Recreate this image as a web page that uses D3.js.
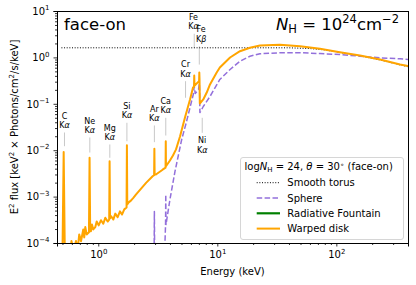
<!DOCTYPE html>
<html>
<head>
<meta charset="utf-8">
<script src="https://cdnjs.cloudflare.com/ajax/libs/d3/7.8.5/d3.min.js"></script>
<style>
  body { margin: 0; background: #fff; }
  svg { display: block; }
  text { font-family: "DejaVu Sans", sans-serif; fill: #000; }
</style>
</head>
<body>
<svg id="chart"></svg>
<script>
// axis ticks
const energyMajor = [1, 10, 100];
const fluxMajor = [1e-4, 1e-3, 1e-2, 1e-1, 1, 10];

// smooth torus (dotted)
const torusEnergy = [0.49, 40, 60, 80, 107, 158, 233, 343, 400];
const torusFlux   = [1.61, 1.61, 1.55, 1.45, 1.28, 1.08, 0.88, 0.69, 0.63];

// sphere (dashed)
const sphereEnergy = [2.94, 2.96, 2.98, 3.60, 3.675, 3.69, 3.705, 3.74, 4.00, 4.41, 5.02, 5.46, 5.90, 6.28, 6.40, 6.52,
  6.95, 7.06, 7.10, 7.14, 7.62, 8.68, 10.5, 12.8, 15.5, 18.8, 22.8, 33.6, 49.5, 72.9, 107, 158, 233, 343, 400];
const sphereFlux = [0.00003, 0.00048, 0.00003, 0.00005, 0.00025, 0.00111, 0.00025, 0.00029, 0.000867, 0.00348, 0.0170,
  0.0376, 0.0832, 0.159, 0.236, 0.167, 0.203, 0.274, 0.203, 0.0649, 0.0875, 0.1437, 0.334, 0.548, 0.828, 1.06, 1.20,
  1.26, 1.26, 1.21, 1.155, 1.06, 0.98, 0.93, 0.90];

// radiative fountain: below the plotted range, legend only
const fountainEnergy = [];
const fountainFlux = [];

// warped disk (solid orange)
const warpedEnergy = [0.500, 0.512, 0.524, 0.585, 0.595, 0.62, 0.65, 0.67, 0.692, 0.716, 0.748, 0.762, 0.778, 0.799,
  0.835, 0.845, 0.855, 0.868, 0.885, 0.908, 0.944, 0.970, 1.008, 1.054, 1.102, 1.145, 1.199, 1.235, 1.245, 1.255,
  1.279, 1.337, 1.390, 1.455, 1.521, 1.582, 1.653, 1.728, 1.740, 1.752, 1.80, 1.88, 1.97, 2.07, 2.52, 2.86, 2.945,
  2.96, 2.975, 3.05, 3.47, 3.675, 3.69, 3.705, 4.00, 4.24, 4.50, 4.86, 5.35, 5.90, 6.25, 6.37, 6.40, 6.43, 6.95,
  7.03, 7.06, 7.09, 7.13, 7.62, 8.15, 8.68, 9.88, 10.5, 12.8, 15.5, 18.8, 22.8, 33.6, 49.5, 72.9, 107, 158, 233, 343, 400];
const warpedFlux = [0.00005, 0.0091, 0.00005, 0.00006, 0.00011, 0.00007, 0.00011, 0.00007, 0.000153, 0.000109,
  0.000196, 0.000132, 0.00022, 0.000153, 0.00017, 0.0069, 0.00018, 0.00018, 0.00025, 0.000196, 0.00022, 0.00029,
  0.00024, 0.00031, 0.00026, 0.00035, 0.00029, 0.00032, 0.0058, 0.00034, 0.00038, 0.00032, 0.00043, 0.00036, 0.00048,
  0.00041, 0.00053, 0.00058, 0.0128, 0.00068, 0.00075, 0.00082, 0.00094, 0.0011, 0.00198, 0.00275, 0.0029, 0.0107,
  0.0030, 0.0030, 0.0038, 0.0042, 0.0156, 0.0045, 0.0060, 0.0077, 0.0104, 0.0197, 0.0507, 0.124, 0.225, 0.23, 0.407,
  0.245, 0.30, 0.305, 0.473, 0.335, 0.1015, 0.124, 0.175, 0.261, 0.473, 0.606, 0.995, 1.36, 1.61, 1.80, 1.87, 1.74,
  1.53, 1.29, 1.10, 0.90, 0.70, 0.65];

// fluorescence line annotations
const lineElements = ["C", "Ne", "Mg", "Si", "Ar", "Ca", "Cr", "Fe", "Fe", "Ni"];
const lineSeries   = ["α", "α", "α", "α", "α", "α", "α", "α", "β", "α"];
const lineEnergies = [0.52, 0.849, 1.25, 1.74, 2.96, 3.69, 5.41, 6.40, 7.06, 7.47];
const lineMarkHigh = [0.0241, 0.0188, 0.0133, 0.0390, 0.0341, 0.0499, 0.307, 3.23, 1.74, 0.0499];
const lineMarkLow  = [0.0122, 0.0089, 0.00686, 0.0156, 0.0149, 0.0207, 0.135, 1.61, 0.70, 0.0237];
const lineLabelBelow = [false, false, false, false, false, false, false, false, false, true];

const seriesNames = ["Smooth torus", "Sphere", "Radiative Fountain", "Warped disk"];

const W = 416, H = 285;
const plot = { left: 57, right: 408, top: 11, bottom: 243 };

const svg = d3.select("#chart").attr("width", W).attr("height", H).attr("viewBox", `0 0 ${W} ${H}`);

const x = d3.scaleLog().domain([0.45, 400]).range([plot.left, plot.right]);
const y = d3.scaleLog().domain([1e-4, 10]).range([plot.bottom, plot.top]);

const styles = [
  { color: "#000", width: 1, dash: "1,1.65" },
  { color: "#9370db", width: 1.5, dash: "5.5,2.4" },
  { color: "#008000", width: 2.2, dash: null },
  { color: "#ffa500", width: 2, dash: null }
];

// superscript helper for "10^n"
function pow10Label(sel, exp) {
  sel.text(null);
  sel.append("tspan").text("10");
  sel.append("tspan").attr("dy", -4.5).attr("font-size", 7).text(exp);
}
const expText = v => {
  const e = Math.round(Math.log10(v));
  return e < 0 ? "\u2212" + Math.abs(e) : String(e);
};

// clip
svg.append("defs").append("clipPath").attr("id", "clip")
  .append("rect").attr("x", plot.left).attr("y", plot.top)
  .attr("width", plot.right - plot.left).attr("height", plot.bottom - plot.top);

// annotations for fluorescence lines
const ann = svg.append("g").attr("class", "line-labels");
lineEnergies.forEach((e, i) => {
  const cx = x(e);
  ann.append("line")
    .attr("x1", cx).attr("x2", cx)
    .attr("y1", y(lineMarkHigh[i])).attr("y2", y(lineMarkLow[i]))
    .attr("stroke", "#c8c8c8").attr("stroke-width", 1);
  let b1, b2;
  if (lineLabelBelow[i]) {
    b1 = y(lineMarkLow[i]) + 9.7; b2 = b1 + 10;
  } else {
    b2 = y(lineMarkHigh[i]) - 4.5; b1 = b2 - 9.3;
  }
  // Fe Ka / Fe Kb labels sit almost on top of each other; spread them a touch
  let lx = cx;
  if (lineElements[i] === "Fe") lx += lineSeries[i] === "β" ? 1.8 : -0.8;
  ann.append("text").attr("x", lx).attr("y", b1).attr("text-anchor", "middle")
    .attr("font-size", 8).text(lineElements[i]);
  const t = ann.append("text").attr("x", lx).attr("y", b2).attr("text-anchor", "middle").attr("font-size", 8);
  t.append("tspan").text("K");
  t.append("tspan").attr("font-style", "italic").text(lineSeries[i]);
});

// curves
const lineGen = d3.line().x(d => x(d[0])).y(d => y(d[1]));
const curves = svg.append("g").attr("clip-path", "url(#clip)");
const seriesData = [
  d3.zip(torusEnergy, torusFlux),
  d3.zip(sphereEnergy, sphereFlux),
  d3.zip(fountainEnergy, fountainFlux),
  d3.zip(warpedEnergy, warpedFlux)
];
seriesData.forEach((data, i) => {
  if (!data.length) return;
  curves.append("path")
    .attr("d", lineGen(data))
    .attr("fill", "none")
    .attr("stroke", styles[i].color)
    .attr("stroke-width", styles[i].width)
    .attr("stroke-dasharray", styles[i].dash)
    .attr("stroke-linejoin", "round");
});

// axes
const minorX = x.ticks().filter(v => !energyMajor.includes(v));
const minorY = y.ticks().filter(v => !fluxMajor.some(m => Math.abs(m - v) / m < 1e-6));

svg.append("g").attr("transform", `translate(0,${plot.bottom})`)
  .call(d3.axisBottom(x).tickValues(minorX).tickSize(2).tickFormat(""))
  .call(g => g.select(".domain").remove());
svg.append("g").attr("transform", `translate(${plot.left},0)`)
  .call(d3.axisLeft(y).tickValues(minorY).tickSize(2).tickFormat(""))
  .call(g => g.select(".domain").remove());

const xAxis = svg.append("g").attr("transform", `translate(0,${plot.bottom})`)
  .call(d3.axisBottom(x).tickValues(energyMajor).tickSize(3.5).tickPadding(4.5).tickFormat(""));
xAxis.selectAll(".tick text").each(function(d) { pow10Label(d3.select(this), expText(d)); });
xAxis.selectAll("text").attr("font-size", 10).attr("font-family", "DejaVu Sans");

const yAxis = svg.append("g").attr("transform", `translate(${plot.left},0)`)
  .call(d3.axisLeft(y).tickValues(fluxMajor).tickSize(3.5).tickPadding(4).tickFormat(""));
yAxis.selectAll(".tick text").each(function(d) { pow10Label(d3.select(this), expText(d)); });
yAxis.selectAll("text").attr("font-size", 10).attr("font-family", "DejaVu Sans");

svg.selectAll(".tick line").attr("stroke", "#000").attr("stroke-width", 0.8);

// frame
svg.append("rect")
  .attr("x", plot.left + 0.5).attr("y", plot.top + 0.5)
  .attr("width", plot.right - plot.left).attr("height", plot.bottom - plot.top)
  .attr("fill", "none").attr("stroke", "#000").attr("stroke-width", 1);

// axis labels
svg.append("text").attr("x", (plot.left + plot.right) / 2).attr("y", 274.5)
  .attr("text-anchor", "middle").attr("font-size", 10).text("Energy (keV)");

const yl = svg.append("text")
  .attr("transform", `translate(17.5,${(plot.top + plot.bottom) / 2}) rotate(-90)`)
  .attr("text-anchor", "middle").attr("font-size", 10);
yl.append("tspan").text("E");
yl.append("tspan").attr("dy", -4).attr("font-size", 7).text("2");
yl.append("tspan").attr("dy", 4).text(" flux [keV");
yl.append("tspan").attr("dy", -4).attr("font-size", 7).text("2");
yl.append("tspan").attr("dy", 4).text(" \u00d7 Photons/cm");
yl.append("tspan").attr("dy", -4).attr("font-size", 7).text("2");
yl.append("tspan").attr("dy", 4).text("/s/keV]");

// panel texts
svg.append("text").attr("x", 64).attr("y", 29.5).attr("font-size", 16.5).text("face-on");

const nh = svg.append("text").attr("x", 399).attr("y", 29.5).attr("text-anchor", "end").attr("font-size", 16.5);
nh.append("tspan").attr("font-style", "italic").text("N");
nh.append("tspan").attr("dy", 3.5).attr("font-size", 11.5).text("H");
nh.append("tspan").attr("dy", -3.5).text(" = 10");
nh.append("tspan").attr("dy", -7).attr("font-size", 11.5).text("24");
nh.append("tspan").attr("dy", 7).text("cm");
nh.append("tspan").attr("dy", -7).attr("font-size", 11.5).text("\u22122");

// legend
const lg = svg.append("g").attr("transform", "translate(240,157)");
lg.append("rect").attr("x", 0.5).attr("y", 0.5).attr("width", 163).attr("height", 82)
  .attr("rx", 2.5).attr("fill", "#fff").attr("fill-opacity", 0.85)
  .attr("stroke", "#d6d6d6").attr("stroke-width", 1);
const lt = lg.append("text").attr("x", 4.5).attr("y", 12.5).attr("font-size", 10);
lt.append("tspan").text("log");
lt.append("tspan").attr("font-style", "italic").text("N");
lt.append("tspan").attr("dy", 2.5).attr("font-size", 7).text("H");
lt.append("tspan").attr("dy", -2.5).text(" = 24, ");
lt.append("tspan").attr("font-style", "italic").text("\u03b8");
lt.append("tspan").text(" = 30");
lt.append("tspan").attr("dy", -3).attr("font-size", 7).text("\u2218");
lt.append("tspan").attr("dy", 3).text("  (face-on)");

seriesNames.forEach((name, i) => {
  const ry = 25.7 + i * 15.3;
  lg.append("line").attr("x1", 16.7).attr("x2", 40).attr("y1", ry).attr("y2", ry)
    .attr("stroke", styles[i].color).attr("stroke-width", styles[i].width)
    .attr("stroke-dasharray", styles[i].dash);
  lg.append("text").attr("x", 47.3).attr("y", ry + 3.6).attr("font-size", 10).text(name);
});
</script>
</body>
</html>
